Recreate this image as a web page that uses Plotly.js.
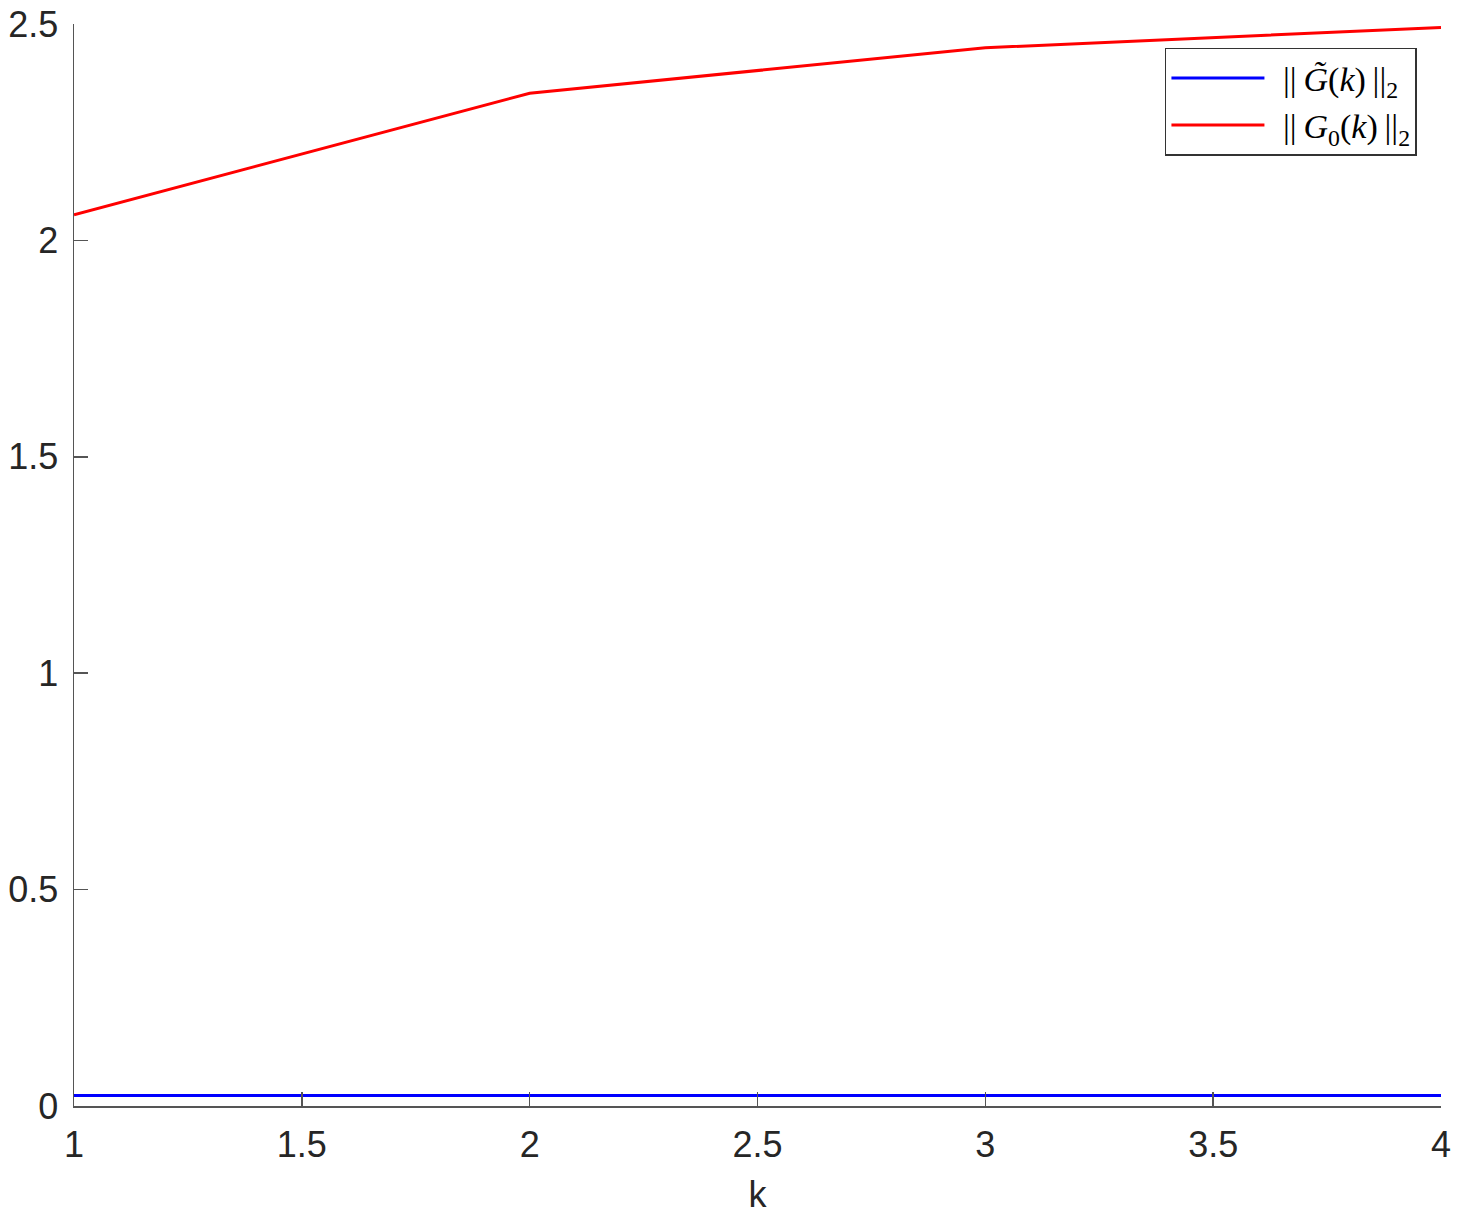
<!DOCTYPE html>
<html>
<head>
<meta charset="utf-8">
<script src="https://cdn.plot.ly/plotly-3.0.1.min.js"></script>
<style>
  html, body { margin: 0; padding: 0; background: #fff; }
  #chart { width: 1460px; height: 1219px; }
</style>
</head>
<body>
<div id="chart"></div>
<script>
var kValues = [1, 2, 3, 4];
var gTildeNorm = [0.024, 0.024, 0.024, 0.024];
var g0Norm = [2.059, 2.340, 2.445, 2.492];
var xTicks = [1, 1.5, 2, 2.5, 3, 3.5, 4];
var yTicks = [0, 0.5, 1, 1.5, 2, 2.5];

// thin spaces to mimic LaTeX math spacing
var ts = '\u2009';

var trace1 = {
  x: kValues,
  y: gTildeNorm,
  type: 'scatter',
  mode: 'lines',
  name: ts + ts + '||' + ts + '<i>G\u0303</i>(<i>k</i>)' + ts + '||<sub>2</sub>',
  line: {color: '#0000ff', width: 3}
};

var trace2 = {
  x: kValues,
  y: g0Norm,
  type: 'scatter',
  mode: 'lines',
  name: ts + ts + '||' + ts + '<i>G</i><sub>0</sub>(<i>k</i>)' + ts + '||<sub>2</sub>',
  line: {color: '#ff0000', width: 3}
};

var axisFont = {family: 'Liberation Sans, Arial, sans-serif', size: 36, color: '#262626'};

var layout = {
  width: 1460,
  height: 1219,
  margin: {l: 74, r: 19, t: 24, b: 113},
  paper_bgcolor: '#fff',
  plot_bgcolor: '#fff',
  showlegend: true,
  legend: {
    x: 0.9824,
    y: 0.978,
    xanchor: 'right',
    yanchor: 'top',
    bgcolor: '#fff',
    bordercolor: '#333',
    borderwidth: 1.5,
    itemwidth: 93,
    font: {family: 'Liberation Serif, DejaVu Serif, serif', size: 34, color: '#000'}
  },
  xaxis: {
    range: [1, 4],
    tickvals: xTicks,
    ticktext: xTicks.map(String),
    ticks: 'inside',
    ticklen: 14,
    tickwidth: 1.5,
    tickcolor: '#555',
    ticklabelstandoff: 6,
    showline: true,
    linecolor: '#555',
    linewidth: 1.5,
    showgrid: false,
    zeroline: false,
    tickfont: axisFont,
    title: {text: 'k', font: axisFont, standoff: 18}
  },
  yaxis: {
    range: [0, 2.5],
    tickvals: yTicks,
    ticktext: yTicks.map(String),
    ticks: 'inside',
    ticklen: 14,
    tickwidth: 1.5,
    tickcolor: '#555',
    ticklabelstandoff: 7,
    showline: true,
    linecolor: '#555',
    linewidth: 1.5,
    showgrid: false,
    zeroline: false,
    tickfont: axisFont
  }
};

Plotly.newPlot('chart', [trace1, trace2], layout, {displayModeBar: false, staticPlot: true});
</script>
</body>
</html>
